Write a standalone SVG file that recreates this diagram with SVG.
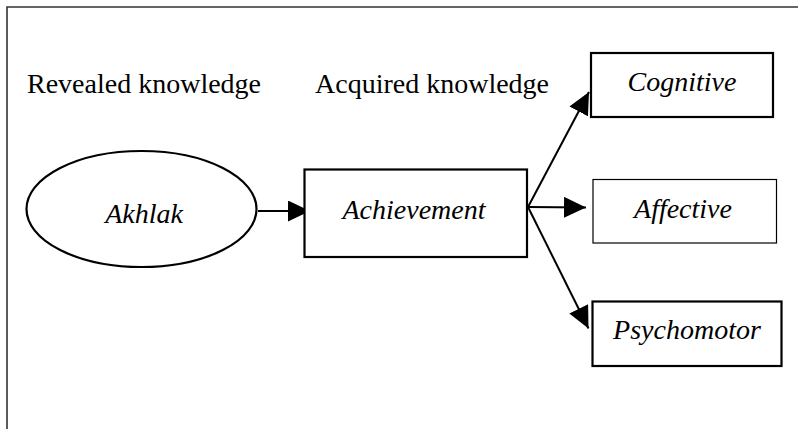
<svg xmlns="http://www.w3.org/2000/svg" width="798" height="429" viewBox="0 0 798 429">
<defs>
<style>
.lbl{font-family:"Liberation Serif","Times New Roman",serif;font-size:28px;fill:#000}
.it{font-style:italic}
.node{fill:#fff;stroke:#000;stroke-width:2.2}
.thin{stroke-width:1.2}
.conn{stroke:#000;stroke-width:2;fill:none}
</style>
<marker id="ah" markerUnits="userSpaceOnUse" markerWidth="22" markerHeight="21" refX="22" refY="10.5" orient="auto">
<path d="M0,0 L22,10.5 L0,21 z" fill="#000"/>
</marker>
</defs>
<rect width="798" height="429" fill="#fff"/>
<path d="M7,429 V7 H798" fill="none" stroke="#333" stroke-width="1.6"/>
<text class="lbl" x="27" y="93">Revealed knowledge</text>
<text class="lbl" x="315" y="93">Acquired knowledge</text>
<g id="connectors">
<line class="conn" x1="258" y1="211" x2="310" y2="211" marker-end="url(#ah)"/>
<line class="conn" x1="528" y1="207" x2="589" y2="92" marker-end="url(#ah)"/>
<line class="conn" x1="528" y1="207" x2="586" y2="207.5" marker-end="url(#ah)"/>
<line class="conn" x1="528" y1="207" x2="588.5" y2="328.5" marker-end="url(#ah)"/>
</g>
<g id="akhlak">
<ellipse class="node" cx="141.5" cy="209" rx="115" ry="58"/>
<text class="lbl it" x="144" y="223" text-anchor="middle">Akhlak</text>
</g>
<g id="achievement">
<rect class="node" x="304.5" y="169.5" width="222.5" height="87.5"/>
<text class="lbl it" x="414" y="219" text-anchor="middle">Achievement</text>
</g>
<g id="cognitive">
<rect class="node" x="591" y="53" width="182" height="64"/>
<text class="lbl it" x="682" y="91" text-anchor="middle">Cognitive</text>
</g>
<g id="affective">
<rect class="node thin" x="593" y="179.5" width="183.5" height="63.5"/>
<text class="lbl it" x="683" y="218" text-anchor="middle">Affective</text>
</g>
<g id="psychomotor">
<rect class="node" x="592.5" y="301.5" width="189" height="64.5"/>
<text class="lbl it" x="687" y="339" text-anchor="middle">Psychomotor</text>
</g>
</svg>
